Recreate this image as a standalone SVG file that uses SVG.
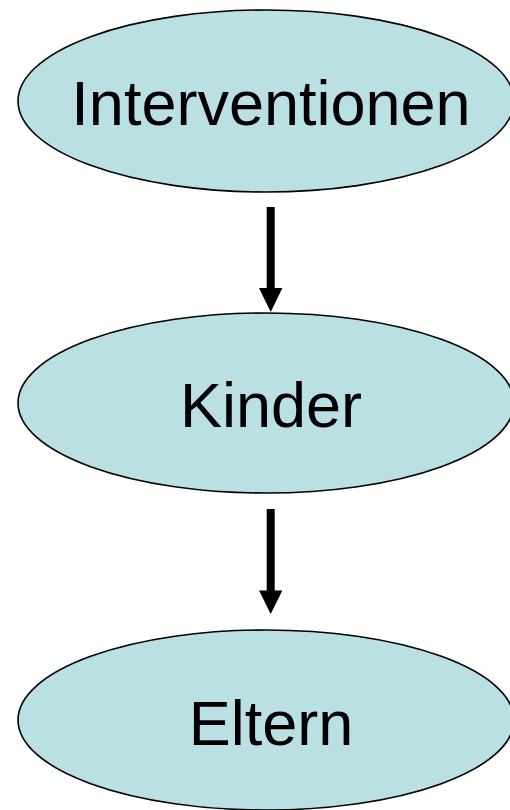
<svg xmlns="http://www.w3.org/2000/svg" width="510" height="810" viewBox="0 0 510 810">
<style>
.node ellipse{fill:#BBE0E3;stroke:#000;stroke-width:1.6}
.node text{font-family:"Liberation Sans",Arial,sans-serif;font-size:63px;fill:#000;text-anchor:middle}
.conn line{stroke:#000;stroke-width:8}
.conn polygon{fill:#000}
</style>
<rect width="510" height="810" fill="#fff"/>
<g id="node-interventionen" class="node">
<ellipse cx="266" cy="101" rx="248" ry="91"/>
<text x="271" y="125">Interventionen</text>
</g>
<g id="node-kinder" class="node">
<ellipse cx="266" cy="403" rx="248" ry="90"/>
<text x="271" y="427">Kinder</text>
</g>
<g id="node-eltern" class="node">
<ellipse cx="266" cy="720" rx="248" ry="90"/>
<text x="271" y="745">Eltern</text>
</g>
<g id="connectors" class="conn">
<line x1="270.7" y1="207" x2="270.7" y2="290"/>
<polygon points="259,288 282.4,288 270.7,312"/>
<line x1="270.7" y1="509" x2="270.7" y2="592"/>
<polygon points="259,590.5 282.4,590.5 270.7,614"/>
</g>
</svg>
